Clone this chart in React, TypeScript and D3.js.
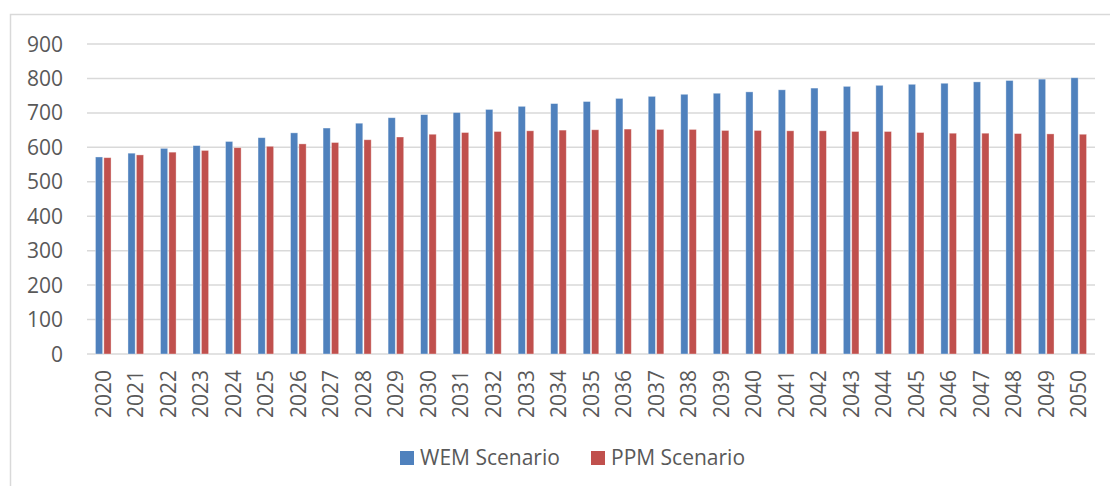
import { useRef, useEffect } from 'react';
import * as d3 from 'd3';

const W = 1110;
const H = 486;

const years = d3.range(2020, 2051).map(String);
const wem = [572, 583, 597, 605, 617, 628, 642, 656, 670, 686, 695, 701, 710, 719, 727, 733,
  742, 748, 754, 757, 761, 767, 772, 777, 780, 783, 786, 790, 794, 798, 802];
const ppm = [570, 578, 586, 591, 599, 603, 610, 614, 622, 630, 638, 643, 646, 648, 650, 651,
  653, 652, 652, 649, 649, 648, 648, 646, 646, 643, 641, 641, 640, 639, 638];
const yTicks = [0, 100, 200, 300, 400, 500, 600, 700, 800, 900];
const series = [
  { label: 'WEM Scenario', color: '#4F81BD', values: wem },
  { label: 'PPM Scenario', color: '#C0504D', values: ppm },
];

const FONT = '"Open Sans", sans-serif';
const TEXT = '#595959';
const GRID = '#D9D9D9';

export default function App() {
  const svgRef = useRef<SVGSVGElement>(null);

  useEffect(() => {
    const svg = d3.select(svgRef.current);
    svg.selectAll('*').remove();

    const plot = { left: 87, right: 1095, top: 44, bottom: 354 };

    // outer chart border (cropped on the right / bottom)
    svg.append('rect')
      .attr('x', 10.5).attr('y', 14.5)
      .attr('width', W + 20).attr('height', H + 20)
      .attr('fill', 'white').attr('stroke', GRID).attr('stroke-width', 1.5);

    const x = d3.scaleBand().domain(years).range([plot.left, plot.right]).paddingInner(0);
    const y = d3.scaleLinear().domain([0, 900]).range([plot.bottom, plot.top]);

    // gridlines
    svg.append('g').selectAll('line').data(yTicks).join('line')
      .attr('x1', plot.left).attr('x2', plot.right)
      .attr('y1', d => y(d)).attr('y2', d => y(d))
      .attr('stroke', GRID).attr('stroke-width', 1.5);

    // y labels
    svg.append('g').selectAll('text').data(yTicks).join('text')
      .attr('x', 63).attr('y', d => y(d)).attr('dy', '0.36em')
      .attr('text-anchor', 'end')
      .attr('font-family', FONT).attr('font-size', 21).attr('fill', TEXT)
      .text(d => d);

    // bars
    const barW = 7.2;
    const gap = 1.2;
    series.forEach((s, si) => {
      svg.append('g').selectAll('rect').data(s.values).join('rect')
        .attr('x', (d, i) => {
          const c = (x(years[i]) as number) + x.bandwidth() / 2;
          return si === 0 ? c - gap / 2 - barW : c + gap / 2;
        })
        .attr('y', d => y(d))
        .attr('width', barW)
        .attr('height', d => y(0) - y(d))
        .attr('fill', s.color)
        .attr('stroke', 'white').attr('stroke-opacity', 0.45).attr('stroke-width', 0.8);
    });

    // x labels
    svg.append('g').selectAll('text').data(years).join('text')
      .attr('transform', d => `translate(${(x(d) as number) + x.bandwidth() / 2},370) rotate(-90)`)
      .attr('dy', '0.36em')
      .attr('text-anchor', 'end')
      .attr('font-family', FONT).attr('font-size', 21).attr('fill', TEXT)
      .text(d => d);

    // legend
    const legendX = [400, 591];
    series.forEach((s, i) => {
      svg.append('rect')
        .attr('x', legendX[i]).attr('y', 451)
        .attr('width', 14).attr('height', 14)
        .attr('fill', s.color);
      svg.append('text')
        .attr('x', legendX[i] + 20).attr('y', 465)
        .attr('font-family', FONT).attr('font-size', 21).attr('fill', TEXT)
        .text(s.label);
    });
  }, []);

  return (
    <svg ref={svgRef} width={W} height={H}
      style={{ position: 'absolute', left: 0, top: 0, display: 'block', background: 'white' }} />
  );
}
